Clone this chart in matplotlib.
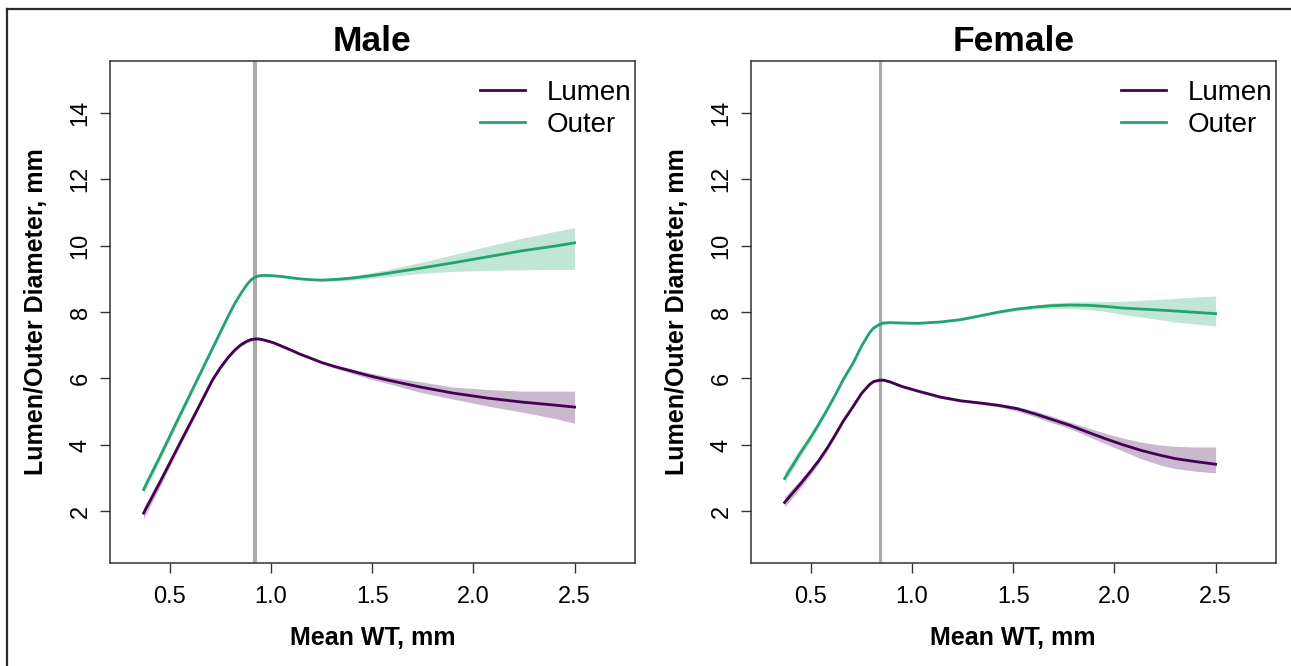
#!/usr/bin/env python
# lumen / outer diameter vs mean wall thickness, male and female panels
import matplotlib
matplotlib.use('Agg')
import matplotlib.pyplot as plt
from matplotlib.lines import Line2D

plt.rcParams['font.family'] = ['Liberation Sans', 'DejaVu Sans']

# ---- data ----
male_x = [0.37, 0.45, 0.55, 0.63, 0.71, 0.75, 0.79, 0.82, 0.85, 0.88, 0.90, 0.92, 0.94, 0.97, 1.01,
          1.05, 1.10, 1.14, 1.20, 1.25, 1.32, 1.40, 1.48, 1.57, 1.74, 1.90, 2.07, 2.24, 2.40, 2.50]
male_outer = [2.66, 3.64, 4.90, 5.90, 6.90, 7.40, 7.90, 8.25, 8.55, 8.82, 8.96, 9.05, 9.09, 9.10, 9.09,
              9.07, 9.03, 9.00, 8.97, 8.96, 8.98, 9.02, 9.08, 9.16, 9.32, 9.48, 9.66, 9.84, 9.98, 10.08]
male_outer_lo = [2.52, 3.52, 4.80, 5.82, 6.83, 7.34, 7.84, 8.20, 8.51, 8.78, 8.92, 9.01, 9.05, 9.06, 9.05,
                 9.04, 9.00, 8.97, 8.94, 8.92, 8.93, 8.96, 9.01, 9.06, 9.16, 9.22, 9.25, 9.27, 9.28, 9.28]
male_outer_hi = [2.82, 3.77, 5.00, 5.98, 6.97, 7.46, 7.96, 8.30, 8.59, 8.86, 9.00, 9.09, 9.13, 9.14, 9.13,
                 9.10, 9.06, 9.03, 9.01, 9.00, 9.03, 9.09, 9.17, 9.27, 9.49, 9.72, 9.98, 10.22, 10.42, 10.53]
male_lumen = [1.95, 2.87, 4.06, 5.00, 5.95, 6.33, 6.65, 6.85, 7.01, 7.12, 7.17, 7.19, 7.19, 7.15, 7.08,
              6.98, 6.85, 6.74, 6.60, 6.48, 6.35, 6.22, 6.09, 5.96, 5.74, 5.56, 5.41, 5.29, 5.20, 5.14]
male_lumen_lo = [1.78, 2.73, 3.96, 4.92, 5.89, 6.28, 6.60, 6.80, 6.96, 7.07, 7.12, 7.15, 7.15, 7.11, 7.04,
                 6.94, 6.81, 6.70, 6.56, 6.44, 6.30, 6.15, 6.00, 5.86, 5.58, 5.38, 5.17, 4.99, 4.80, 4.65]
male_lumen_hi = [2.12, 3.01, 4.16, 5.08, 6.01, 6.38, 6.70, 6.90, 7.06, 7.17, 7.22, 7.23, 7.23, 7.19, 7.12,
                 7.02, 6.89, 6.78, 6.64, 6.52, 6.40, 6.29, 6.18, 6.06, 5.90, 5.74, 5.67, 5.62, 5.62, 5.62]
male_cut = 0.92

fem_x = [0.37, 0.45, 0.50, 0.54, 0.58, 0.62, 0.66, 0.71, 0.75, 0.79, 0.81, 0.84, 0.86, 0.89, 0.95, 1.03,
         1.14, 1.24, 1.34, 1.43, 1.52, 1.61, 1.69, 1.78, 1.87, 1.95, 2.04, 2.13, 2.22, 2.30, 2.40, 2.50]
fem_outer = [2.99, 3.78, 4.24, 4.64, 5.06, 5.50, 5.97, 6.48, 6.97, 7.38, 7.52, 7.63, 7.67, 7.68, 7.67, 7.66,
             7.70, 7.77, 7.89, 8.00, 8.09, 8.15, 8.19, 8.21, 8.20, 8.17, 8.12, 8.09, 8.06, 8.03, 7.99, 7.95]
fem_outer_lo = [2.86, 3.66, 4.14, 4.56, 4.99, 5.43, 5.91, 6.43, 6.93, 7.34, 7.48, 7.59, 7.63, 7.65, 7.64, 7.63,
                7.67, 7.74, 7.86, 7.96, 8.04, 8.09, 8.11, 8.11, 8.08, 8.02, 7.93, 7.85, 7.77, 7.70, 7.64, 7.58]
fem_outer_hi = [3.18, 3.92, 4.35, 4.74, 5.14, 5.57, 6.03, 6.54, 7.02, 7.43, 7.57, 7.67, 7.71, 7.71, 7.70, 7.69,
                7.73, 7.80, 7.92, 8.04, 8.14, 8.21, 8.27, 8.30, 8.31, 8.31, 8.32, 8.35, 8.38, 8.41, 8.45, 8.48]
fem_lumen = [2.27, 2.84, 3.22, 3.54, 3.90, 4.30, 4.72, 5.17, 5.55, 5.82, 5.91, 5.95, 5.95, 5.90, 5.76, 5.62,
             5.44, 5.33, 5.26, 5.19, 5.09, 4.93, 4.77, 4.59, 4.38, 4.20, 4.01, 3.84, 3.70, 3.59, 3.50, 3.42]
fem_lumen_lo = [2.12, 2.72, 3.12, 3.45, 3.82, 4.23, 4.66, 5.12, 5.51, 5.78, 5.87, 5.91, 5.91, 5.86, 5.72, 5.58,
                5.40, 5.29, 5.22, 5.14, 5.02, 4.84, 4.67, 4.49, 4.26, 4.05, 3.82, 3.59, 3.41, 3.29, 3.21, 3.16]
fem_lumen_hi = [2.44, 2.97, 3.32, 3.63, 3.98, 4.37, 4.78, 5.22, 5.59, 5.86, 5.95, 5.99, 5.99, 5.94, 5.80, 5.66,
                5.48, 5.37, 5.30, 5.24, 5.16, 5.02, 4.87, 4.69, 4.51, 4.36, 4.21, 4.09, 4.00, 3.96, 3.94, 3.94]
fem_cut = 0.84

xticks = [0.5, 1.0, 1.5, 2.0, 2.5]
yticks = [2, 4, 6, 8, 10, 12, 14]

PURPLE = '#440154'
GREEN = '#22A36F'

W, H = 1291, 666
fig = plt.figure(figsize=(W / 100, H / 100), dpi=100)


def panel(left, title, x, outer, olo, ohi, lumen, llo, lhi, cut, vlw):
    top, bottom = 60.7, 563.3
    right = left + 524.5
    ax = fig.add_axes([left / W, 1 - bottom / H, (right - left) / W, (bottom - top) / H])
    ax.axvline(cut, color='#ababab', lw=vlw, zorder=1)
    ax.fill_between(x, llo, lhi, color=PURPLE, alpha=0.28, lw=0, zorder=2)
    ax.fill_between(x, olo, ohi, color=GREEN, alpha=0.28, lw=0, zorder=2)
    ax.plot(x, lumen, color=PURPLE, lw=2.0, label='Lumen', zorder=3)
    ax.plot(x, outer, color=GREEN, lw=2.0, label='Outer', zorder=3)
    ax.set_xlim(0.204, 2.796)
    ax.set_ylim(0.44, 15.56)
    ax.set_xticks(xticks)
    ax.set_xticklabels(['%.1f' % t for t in xticks])
    ax.set_yticks(yticks)
    ax.tick_params(axis='both', direction='out', length=7.2, width=1.0,
                   labelsize=17, color='#333333')
    ax.tick_params(axis='x', pad=9)
    ax.tick_params(axis='y', pad=6, labelrotation=90)
    for lab in ax.get_yticklabels():
        lab.set_va('center')
    for s in ax.spines.values():
        s.set_linewidth(1.1)
        s.set_color('#333333')
    ax.set_title(title, fontsize=25.5, fontweight='bold', pad=7)
    ax.set_xlabel('Mean WT, mm', fontsize=18, fontweight='bold')
    ax.set_ylabel('Lumen/Outer Diameter, mm', fontsize=18, fontweight='bold')
    ax.xaxis.set_label_coords(0.5, -75 / 502.6)
    ax.xaxis.label.set_va('center')
    ax.yaxis.set_label_coords(-74 / 524.5, 0.5)
    ax.yaxis.label.set_va('center')
    ax.legend(loc='upper left', bbox_to_anchor=(0.705, 0.962), frameon=False,
              fontsize=20, handlelength=1.62, handletextpad=0.8,
              labelspacing=0.22, borderpad=0, borderaxespad=0)
    return ax


panel(110, 'Male', male_x, male_outer, male_outer_lo, male_outer_hi,
      male_lumen, male_lumen_lo, male_lumen_hi, male_cut, 3.0)
panel(751, 'Female', fem_x, fem_outer, fem_outer_lo, fem_outer_hi,
      fem_lumen, fem_lumen_lo, fem_lumen_hi, fem_cut, 2.3)

# outer frame of the figure (cropped on right/bottom)
fig.add_artist(Line2D([7 / W, 1], [1 - 9 / H, 1 - 9 / H], color='#2a2a2a', lw=1.6,
                      transform=fig.transFigure))
fig.add_artist(Line2D([7 / W, 7 / W], [0, 1 - 9 / H], color='#2a2a2a', lw=1.6,
                      transform=fig.transFigure))

fig.savefig('out.png', dpi=100)
